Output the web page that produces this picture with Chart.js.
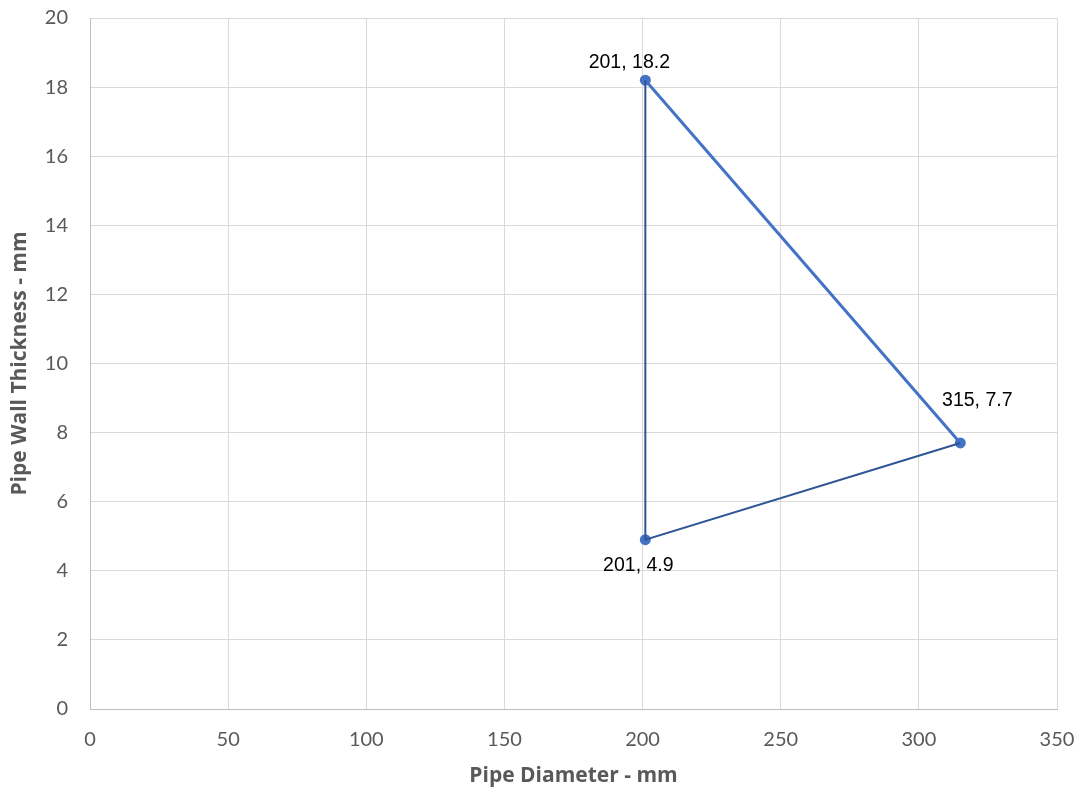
<!DOCTYPE html>
<html>
<head>
<meta charset="utf-8">
<script src="https://cdn.jsdelivr.net/npm/chart.js@4.4.1/dist/chart.umd.min.js"></script>
<style>
  html, body { margin: 0; padding: 0; background: #fff; }
  #wrap { width: 1082px; height: 794px; }
</style>
</head>
<body>
<div id="wrap"><canvas id="chart" width="1082" height="794"></canvas></div>
<script>
// Datos
const diametros = [201, 315, 201];
const espesores = [18.2, 7.7, 4.9];
const xTicks = [0, 50, 100, 150, 200, 250, 300, 350];
const yTicks = [0, 2, 4, 6, 8, 10, 12, 14, 16, 18, 20];

// Colores
const AZUL = '#4472C4';
const AZUL_OSCURO = '#2F5597';
const GRIS_TEXTO = '#595959';
const GRIS_REJILLA = '#D9D9D9';

// desplazamiento de etiquetas (estilo, no datos)
const offsetsEtiqueta = [[-16, -18], [17, -42], [-7, 26]];

const puntos = diametros.map((d, i) => ({ x: d, y: espesores[i] }));

// tramo superior (claro) y el resto del triángulo (oscuro)
const tramoClaro = [puntos[0], puntos[1]];
const tramoOscuro = [puntos[1], puntos[2], puntos[0]];

const etiquetasPlugin = {
    id: 'etiquetas',
    afterDatasetsDraw(chart) {
        const ctx = chart.ctx;
        const sx = chart.scales.x, sy = chart.scales.y;
        ctx.save();
        ctx.font = '19.5px "Liberation Sans", Arial, sans-serif';
        ctx.fillStyle = '#000';
        ctx.textAlign = 'center';
        ctx.textBaseline = 'middle';
        puntos.forEach((p, i) => {
            const px = sx.getPixelForValue(p.x) + offsetsEtiqueta[i][0];
            const py = sy.getPixelForValue(p.y) + offsetsEtiqueta[i][1];
            ctx.fillText(p.x + ', ' + p.y, px, py);
        });
        ctx.restore();
    }
};

new Chart(document.getElementById('chart').getContext('2d'), {
    type: 'scatter',
    data: {
        datasets: [
            {
                data: tramoOscuro,
                showLine: true,
                borderColor: AZUL_OSCURO,
                borderWidth: 2,
                pointRadius: 0,
                fill: false
            },
            {
                data: tramoClaro,
                showLine: true,
                borderColor: AZUL,
                borderWidth: 3,
                pointRadius: 0,
                fill: false
            },
            {
                data: puntos,
                showLine: false,
                backgroundColor: AZUL,
                borderColor: AZUL,
                pointRadius: 5.5,
                pointBorderWidth: 0
            }
        ]
    },
    options: {
        responsive: false,
        animation: false,
        layout: { padding: { top: 18, right: 25, left: 0, bottom: 0 } },
        plugins: { legend: { display: false }, tooltip: { enabled: false } },
        scales: {
            x: {
                type: 'linear',
                min: 0, max: 350,
                afterBuildTicks: s => { s.ticks = xTicks.map(v => ({ value: v })); },
                afterFit: s => { s.height = 85; s.paddingLeft = 0; s.paddingRight = 0; },
                grid: { color: GRIS_REJILLA, drawTicks: false },
                border: { color: '#BFBFBF' },
                ticks: { padding: 19, color: GRIS_TEXTO, font: { family: 'Lato, "Open Sans", sans-serif', size: 20 } },
                title: {
                    display: true, text: 'Pipe Diameter - mm', color: GRIS_TEXTO,
                    font: { family: '"Open Sans", Lato, sans-serif', size: 21, weight: 'bold' },
                    padding: { top: 0, bottom: 5 }
                }
            },
            y: {
                type: 'linear',
                min: 0, max: 20,
                afterBuildTicks: s => { s.ticks = yTicks.map(v => ({ value: v })); },
                afterFit: s => { s.width = 90; s.paddingTop = 0; s.paddingBottom = 0; },
                grid: { color: GRIS_REJILLA, drawTicks: false },
                border: { color: '#BFBFBF' },
                ticks: { padding: 22, color: GRIS_TEXTO, font: { family: 'Lato, "Open Sans", sans-serif', size: 20 } },
                title: {
                    display: true, text: 'Pipe Wall Thickness - mm', color: GRIS_TEXTO,
                    font: { family: '"Open Sans", Lato, sans-serif', size: 21, weight: 'bold' },
                    padding: { top: 7, bottom: 0 }
                }
            }
        }
    },
    plugins: [etiquetasPlugin]
});
</script>
</body>
</html>
